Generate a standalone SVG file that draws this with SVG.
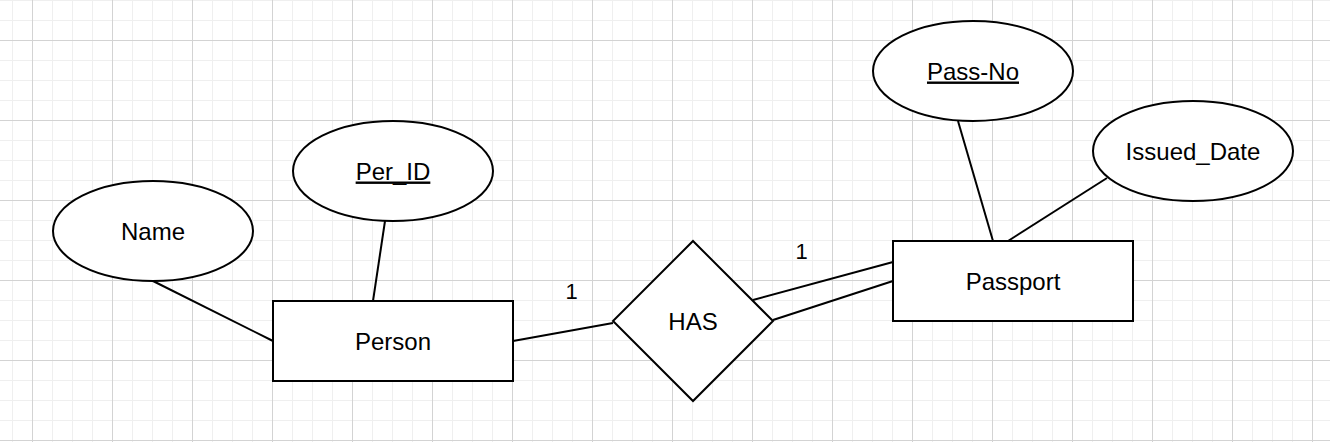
<svg xmlns="http://www.w3.org/2000/svg" width="1330" height="442" viewBox="0 0 1330 442">
  <defs>
    <pattern id="minor" x="12" y="0" width="20" height="20" patternUnits="userSpaceOnUse">
      <path d="M0 0V20M0 0H20" fill="none" stroke="#efefef" stroke-width="2"/>
    </pattern>
    <pattern id="major" x="32" y="40" width="80" height="80" patternUnits="userSpaceOnUse">
      <path d="M0.5 0V80M0 0.5H80" fill="none" stroke="#d3d3d3" stroke-width="1"/>
    </pattern>
  </defs>
  <style>
    .shape { fill: #ffffff; stroke: #000000; stroke-width: 2; }
    .edge { fill: none; stroke: #000000; stroke-width: 2; }
    .label { font-family: "Liberation Sans", Arial, Helvetica, sans-serif; font-size: 24px; fill: #000000; text-anchor: middle; }
    .card { font-family: "Liberation Sans", Arial, Helvetica, sans-serif; font-size: 22px; fill: #000000; text-anchor: middle; }
    .key { text-decoration: underline; }
  </style>
  <rect width="1330" height="442" fill="#ffffff"/>
  <rect width="1330" height="442" fill="url(#minor)"/>
  <rect width="1330" height="442" fill="url(#major)"/>

  <g id="connectors">
    <line class="edge" x1="153" y1="281" x2="273" y2="341"/>
    <line class="edge" x1="385" y1="221" x2="373" y2="301"/>
    <line class="edge" x1="513" y1="341" x2="613" y2="323"/>
    <line class="edge" x1="753" y1="300" x2="893" y2="262"/>
    <line class="edge" x1="773" y1="320" x2="893" y2="281"/>
    <line class="edge" x1="958" y1="121" x2="993" y2="241"/>
    <line class="edge" x1="1107" y1="178" x2="1008" y2="241"/>
    <text class="card" x="571.5" y="298.5">1</text>
    <text class="card" x="801.5" y="258.5">1</text>
  </g>

  <g id="name">
    <ellipse class="shape" cx="153" cy="231" rx="100" ry="50"/>
    <text class="label" x="153" y="239.5">Name</text>
  </g>
  <g id="per_id">
    <ellipse class="shape" cx="393" cy="171" rx="100" ry="50"/>
    <text class="label key" x="393" y="179.5">Per_ID</text>
  </g>
  <g id="person">
    <rect class="shape" x="273" y="301" width="240" height="80"/>
    <text class="label" x="393" y="349.5">Person</text>
  </g>
  <g id="has">
    <polygon class="shape" points="693,241 773,321 693,401 613,321"/>
    <text class="label" x="693" y="329.5">HAS</text>
  </g>
  <g id="passport">
    <rect class="shape" x="893" y="241" width="240" height="80"/>
    <text class="label" x="1013" y="289.5">Passport</text>
  </g>
  <g id="pass_no">
    <ellipse class="shape" cx="973" cy="71" rx="100" ry="50"/>
    <text class="label key" x="973" y="79.5">Pass-No</text>
  </g>
  <g id="issued_date">
    <ellipse class="shape" cx="1193" cy="151" rx="100" ry="50"/>
    <text class="label" x="1193" y="159.5">Issued_Date</text>
  </g>
</svg>
